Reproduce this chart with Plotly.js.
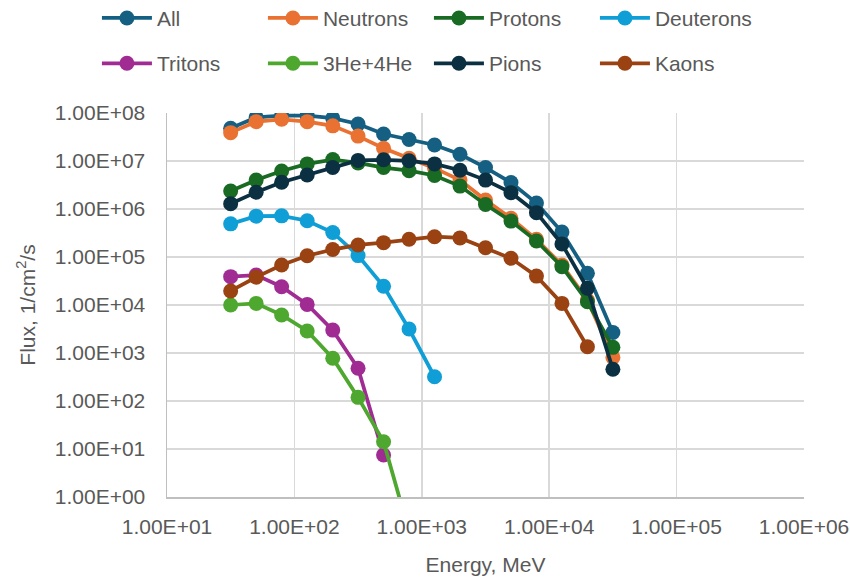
<!DOCTYPE html>
<html>
<head>
<meta charset="utf-8">
<script src="https://cdn.plot.ly/plotly-3.0.1.min.js"></script>
<style>html,body{margin:0;padding:0;background:#fff;}#chart{width:850px;height:580px;}</style>
</head>
<body>
<div id="chart"></div>
<script>
const energy = [31.6, 50.1, 79.4, 126, 200, 316, 501, 794, 1259, 1995, 3162, 5012, 7943, 12589, 19953, 31623];
const allFlux = [4.8e7, 8.1e7, 8.8e7, 8.8e7, 7.8e7, 5.9e7, 3.65e7, 2.8e7, 2.15e7, 1.38e7, 7.3e6, 3.56e6, 1.33e6, 3.3e5, 4.6e4, 2.67e3];
const neutrons = [3.9e7, 6.6e7, 7.4e7, 6.6e7, 5.4e7, 3.3e7, 1.84e7, 1.14e7, 7.1e6, 4.0e6, 1.54e6, 6.4e5, 2.34e5, 6.8e4, 1.27e4, 8.1e2];
const protons = [2.37e6, 4.0e6, 6.2e6, 8.7e6, 1.07e7, 9.1e6, 7.3e6, 6.3e6, 5.0e6, 3.0e6, 1.24e6, 5.6e5, 2.15e5, 6.3e4, 1.17e4, 1.31e3];
const deuterons = [4.9e5, 7.1e5, 7.2e5, 5.7e5, 3.24e5, 1.07e5, 2.45e4, 3.16e3, 3.2e2];
const tritons = [3.9e4, 4.2e4, 2.4e4, 1.03e4, 3.0e3, 4.8e2, 7.5];
const helium = [1.0e4, 1.08e4, 6.2e3, 2.87e3, 7.8e2, 1.19e2, 14.2, 0.19];
const pions = [1.29e6, 2.24e6, 3.6e6, 5.1e6, 7.3e6, 1.03e7, 1.06e7, 1.01e7, 8.7e6, 6.4e6, 4.0e6, 2.19e6, 8.4e5, 1.87e5, 2.23e4, 4.6e2];
const kaons = [1.96e4, 3.8e4, 6.8e4, 1.06e5, 1.43e5, 1.78e5, 1.99e5, 2.34e5, 2.65e5, 2.5e5, 1.56e5, 9.4e4, 4.0e4, 1.08e4, 1.35e3];

const seriesNames = ["All", "Neutrons", "Protons", "Deuterons", "Tritons", "3He+4He", "Pions", "Kaons"];
const seriesValues = [allFlux, neutrons, protons, deuterons, tritons, helium, pions, kaons];
const seriesColors = ["#156082", "#E97132", "#196B24", "#0F9ED5", "#A02B93", "#4EA72E", "#0B3041", "#9A4212"];

const xTickVals = [1e1, 1e2, 1e3, 1e4, 1e5, 1e6];
const xTickText = ["1.00E+01", "1.00E+02", "1.00E+03", "1.00E+04", "1.00E+05", "1.00E+06"];
const yTickVals = [1e0, 1e1, 1e2, 1e3, 1e4, 1e5, 1e6, 1e7, 1e8];
const yTickText = ["1.00E+00", "1.00E+01", "1.00E+02", "1.00E+03", "1.00E+04", "1.00E+05", "1.00E+06", "1.00E+07", "1.00E+08"];

const FONT = "Liberation Sans, Arial, sans-serif";

const traces = seriesNames.map((name, i) => ({
  type: "scatter",
  mode: "lines+markers",
  name: name,
  x: energy.slice(0, seriesValues[i].length),
  y: seriesValues[i],
  line: {color: seriesColors[i], width: 3.75},
  marker: {color: seriesColors[i], size: 15},
  legend: i < 4 ? "legend" : "legend2"
}));

const legendCommon = {
  orientation: "h",
  xanchor: "left",
  yanchor: "top",
  x: -0.110,
  entrywidth: 101,
  entrywidthmode: "pixels",
  itemwidth: 50,
  font: {family: FONT, size: 21, color: "#595959"},
  bgcolor: "rgba(0,0,0,0)",
  borderwidth: 0,
  itemclick: false
};

const layout = {
  width: 850,
  height: 580,
  margin: {l: 167, r: 46, t: 113, b: 83, autoexpand: false},
  paper_bgcolor: "#ffffff",
  plot_bgcolor: "#ffffff",
  font: {family: FONT, size: 21, color: "#595959"},
  showlegend: true,
  legend: Object.assign({}, legendCommon, {y: 1.30}),
  legend2: Object.assign({}, legendCommon, {y: 1.182}),
  xaxis: {
    type: "log",
    range: [1, 6],
    tickmode: "array",
    tickvals: xTickVals,
    ticktext: xTickText,
    ticklabeloverflow: "allow",
    showgrid: true,
    gridcolor: "#D9D9D9",
    gridwidth: 1.5,
    showline: true,
    linecolor: "#BFBFBF",
    linewidth: 1.5,
    zeroline: false,
    ticks: "",
    ticklabelstandoff: 10,
    automargin: false,
    tickfont: {family: FONT, size: 21, color: "#595959"},
    title: {text: "Energy, MeV", font: {family: FONT, size: 21, color: "#595959"}, standoff: 20}
  },
  yaxis: {
    type: "log",
    range: [0, 8],
    tickmode: "array",
    tickvals: yTickVals,
    ticktext: yTickText,
    ticklabeloverflow: "allow",
    showgrid: true,
    gridcolor: "#D9D9D9",
    gridwidth: 1.5,
    showline: true,
    linecolor: "#BFBFBF",
    linewidth: 1.5,
    zeroline: false,
    ticks: "",
    ticklabelstandoff: 16,
    automargin: false,
    tickfont: {family: FONT, size: 21, color: "#595959"},
    title: {text: "Flux, 1/cm<sup>2</sup>/s", font: {family: FONT, size: 21, color: "#595959"}, standoff: 13}
  }
};

Plotly.newPlot("chart", traces, layout, {staticPlot: true, displayModeBar: false});
</script>
</body>
</html>
